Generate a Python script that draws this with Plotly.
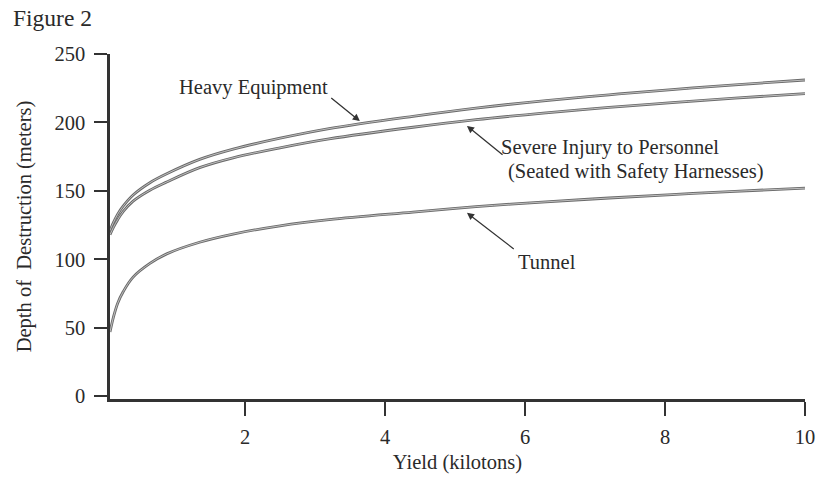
import plotly.graph_objects as go

# Data
yield_kt = [0.07, 0.12, 0.18, 0.26, 0.40, 0.64, 0.88, 1.35, 1.83, 2.5, 3.2, 4.4, 5.3, 6.3, 7.2, 8.1, 9.0, 10.0]
heavy_equipment = [121, 127, 133, 139, 147, 156, 162.5, 173, 180.5, 188.5, 195.5, 204.5, 210.5, 216, 220.2, 224, 227.5, 231]
severe_injury = [118, 123.5, 129, 135, 142.5, 150.5, 156.5, 167, 174.2, 181.5, 188, 196.5, 202, 207, 211, 214.5, 217.8, 221]
tunnel = [47, 58, 68, 76.5, 87, 97, 104, 112.5, 118.5, 124.5, 129, 134.5, 138.5, 142, 144.8, 147.3, 149.7, 152]

x_ticks = [2, 4, 6, 8, 10]
y_ticks = [0, 50, 100, 150, 200, 250]

FONT = "Liberation Serif, Times New Roman, serif"
TXT = "#2a2a2a"
FS = 20.5

fig = go.Figure()
for name, ys in [("Heavy Equipment", heavy_equipment),
                 ("Severe Injury to Personnel", severe_injury),
                 ("Tunnel", tunnel)]:
    fig.add_trace(go.Scatter(x=yield_kt, y=ys, mode="lines", name=name,
                             line=dict(color="#6a6a6a", width=2.8, shape="spline", smoothing=1.0),
                             showlegend=False, hoverinfo="skip"))
    fig.add_trace(go.Scatter(x=yield_kt, y=ys, mode="lines", name=name,
                             line=dict(color="#d4d4d4", width=0.8, shape="spline", smoothing=1.0),
                             showlegend=False))

ann = []
# Text labels
ann.append(dict(x=2.12, y=225.3, xref="x", yref="y", text="Heavy Equipment", showarrow=False,
                xanchor="center", yanchor="middle"))
ann.append(dict(x=5.63, y=181.4, xref="x", yref="y", text="Severe Injury to Personnel", showarrow=False,
                xanchor="left", yanchor="middle"))
ann.append(dict(x=5.73, y=163.9, xref="x", yref="y", text="(Seated with Safety Harnesses)", showarrow=False,
                xanchor="left", yanchor="middle"))
ann.append(dict(x=6.32, y=98, xref="x", yref="y", text="Tunnel", showarrow=False,
                xanchor="center", yanchor="middle"))
# Arrows
for (hx, hy, tx, ty) in [(3.64, 201.0, 3.21, 218.7), (5.17, 197.5, 5.70, 175.6), (5.17, 134.0, 5.86, 106.8)]:
    ann.append(dict(x=hx, y=hy, ax=tx, ay=ty, xref="x", yref="y", axref="x", ayref="y",
                    text="", showarrow=True, arrowhead=2, arrowsize=1.1, arrowwidth=1.3,
                    arrowcolor="#333333", standoff=0, startstandoff=0))
# Figure label (paper coords relative to plot area: left 110px, top 54px, 695x345)
ann.append(dict(x=(11 - 110) / 695, y=(399 - 18) / 345, xref="paper", yref="paper", text="Figure 2",
                showarrow=False, xanchor="left", yanchor="middle", font=dict(size=23.5)))

for a in ann:
    size = a.get("font", {}).get("size", FS)
    a["font"] = dict(family=FONT, color=TXT, size=size)

fig.update_layout(
    width=817, height=477,
    margin=dict(l=110, r=12, t=54, b=78),
    paper_bgcolor="white", plot_bgcolor="white",
    font=dict(family=FONT, color=TXT, size=FS),
    annotations=ann,
    xaxis=dict(range=[0.07, 10], tickvals=x_ticks, ticktext=[str(v) for v in x_ticks],
               showgrid=False, zeroline=False, showline=True, linecolor="#333333", linewidth=2.5,
               ticks="outside", ticklen=14, tickwidth=2, tickcolor="#333333", ticklabelstandoff=4,
               automargin=False,
               title=dict(text="Yield (kilotons)", standoff=8, font=dict(size=FS))),
    yaxis=dict(range=[-2, 250], tickvals=y_ticks, ticktext=[str(v) for v in y_ticks],
               showgrid=False, zeroline=False, showline=True, linecolor="#333333", linewidth=2.5,
               ticks="outside", ticklen=13, tickwidth=2, tickcolor="#333333", ticklabelstandoff=5,
               automargin=False,
               title=dict(text="Depth of  Destruction (meters)", standoff=18, font=dict(size=FS))),
)

fig.write_html("out.html")
